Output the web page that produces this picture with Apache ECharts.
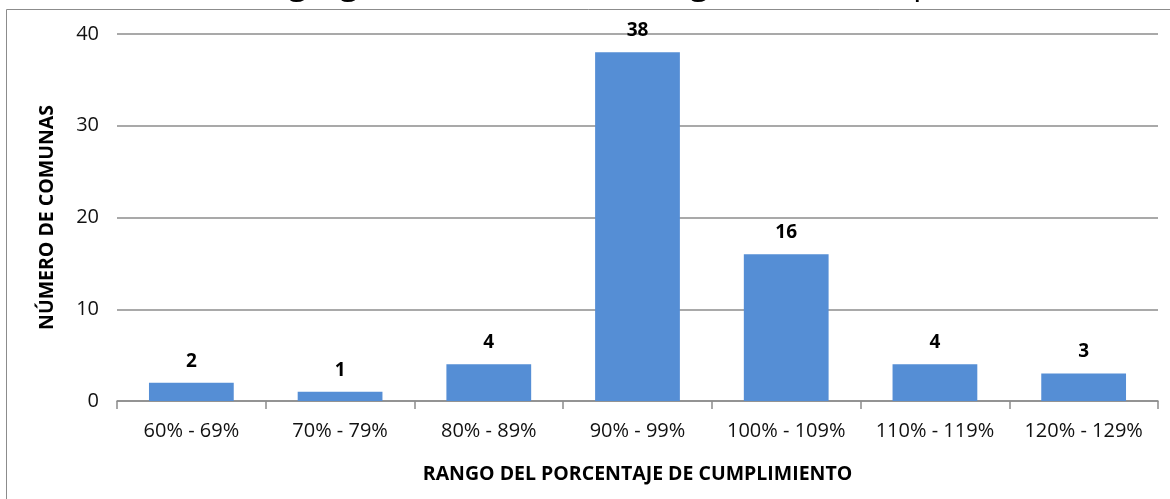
<!DOCTYPE html>
<html><head><meta charset="utf-8">
<script src="https://cdn.jsdelivr.net/npm/echarts@6/dist/echarts.min.js"></script>
<style>html,body{margin:0;padding:0;background:#fff}#c{width:1170px;height:499px}</style>
</head><body><div id="c"></div>
<script>
const categories = ['60% - 69%','70% - 79%','80% - 89%','90% - 99%','100% - 109%','110% - 119%','120% - 129%'];
const values = [2, 1, 4, 38, 16, 4, 3];
const yTicks = {min: 0, max: 40, interval: 10};
const titleText = 'Gráfico N° 4: Desagregación de comunas según % de cumplimiento';
const yName = 'NÚMERO DE COMUNAS';
const xName = 'RANGO DEL PORCENTAJE DE CUMPLIMIENTO';
const FONT = 'Open Sans';

const chart = echarts.init(document.getElementById('c'));
chart.setOption({
  animation: false,
  backgroundColor: '#fff',
  textStyle: {fontFamily: FONT},
  graphic: [
    {type: 'rect', shape: {x: 6.5, y: 9.5, width: 1300, height: 700}, style: {fill: 'none', stroke: '#8c8c8c', lineWidth: 1}, z: -1},
    {type: 'text', x: 0, y: -33, style: {text: titleText, font: '34px "' + FONT + '"', fill: '#000'}}
  ],
  grid: {left: 117, right: 12, top: 34, bottom: 98},
  xAxis: {
    type: 'category', data: categories,
    axisLine: {lineStyle: {color: '#8c8c8c', width: 1.5}},
    axisTick: {show: true, interval: 0, length: 8, inside: false, lineStyle: {color: '#8c8c8c', width: 1.5}},
    axisLabel: {color: '#111', fontSize: 20, margin: 20, interval: 0, fontFamily: FONT},
    name: xName, nameLocation: 'middle', nameGap: 63,
    nameTextStyle: {fontWeight: 'bold', fontSize: 19.5, color: '#000', fontFamily: FONT}
  },
  yAxis: {
    type: 'value', min: yTicks.min, max: yTicks.max, interval: yTicks.interval,
    axisLine: {show: false}, axisTick: {show: false},
    splitLine: {lineStyle: {color: '#8c8c8c', width: 1.5}},
    axisLabel: {color: '#111', fontSize: 20, margin: 18, fontFamily: FONT},
    name: yName, nameLocation: 'middle', nameGap: 60,
    nameTextStyle: {fontWeight: 'bold', fontSize: 19.5, color: '#000', fontFamily: FONT}
  },
  series: [{
    type: 'bar', data: values, barWidth: '57%',
    itemStyle: {color: '#558ED5'},
    label: {show: true, position: 'top', distance: 12, fontWeight: 'bold', fontSize: 19, color: '#000', fontFamily: FONT}
  }]
});
</script></body></html>
